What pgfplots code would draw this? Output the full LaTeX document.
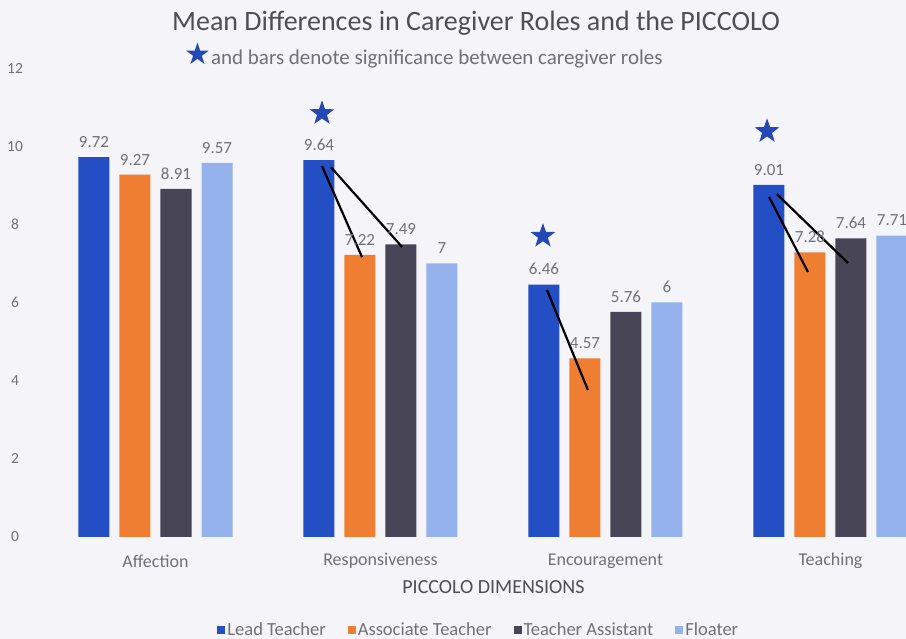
\documentclass[border=0pt]{standalone}
\usepackage{fontspec}
\setmainfont{Carlito}
\newfontfamily\symfont{DejaVu Sans}
\usepackage{pgfplots}
\pgfplotsset{compat=1.18}
\definecolor{leadblue}{RGB}{36,78,196}
\definecolor{assocorange}{RGB}{240,126,50}
\definecolor{tagray}{RGB}{72,70,86}
\definecolor{floatblue}{RGB}{150,178,236}
\definecolor{bgcol}{RGB}{244,244,249}
\definecolor{starblue}{RGB}{36,72,180}
\definecolor{lblgray}{RGB}{112,112,118}
\definecolor{titlegray}{RGB}{78,78,84}

% filled five-pointed star
\pgfdeclareplotmark{fstar}{%
  \pgfpathmoveto{\pgfpointpolar{90}{\pgfplotmarksize}}%
  \pgfpathlineto{\pgfpointpolar{126}{0.4\pgfplotmarksize}}%
  \pgfpathlineto{\pgfpointpolar{162}{\pgfplotmarksize}}%
  \pgfpathlineto{\pgfpointpolar{198}{0.4\pgfplotmarksize}}%
  \pgfpathlineto{\pgfpointpolar{234}{\pgfplotmarksize}}%
  \pgfpathlineto{\pgfpointpolar{270}{0.4\pgfplotmarksize}}%
  \pgfpathlineto{\pgfpointpolar{306}{\pgfplotmarksize}}%
  \pgfpathlineto{\pgfpointpolar{342}{0.4\pgfplotmarksize}}%
  \pgfpathlineto{\pgfpointpolar{18}{\pgfplotmarksize}}%
  \pgfpathlineto{\pgfpointpolar{54}{0.4\pgfplotmarksize}}%
  \pgfpathclose\pgfusepathqfill}

\begin{document}
\begin{tikzpicture}
\path[use as bounding box,fill=bgcol] (0,0) rectangle (906pt,639pt);
\clip (0,0) rectangle (906pt,639pt);

\node[text=titlegray,font=\fontsize{28}{32}\selectfont] at (476pt,616pt)
  {Mean Differences in Caregiver Roles and the PICCOLO};
\node[anchor=west,text=lblgray,font=\fontsize{21}{24}\selectfont,inner sep=0pt] at (184pt,584pt)
  {{\symfont\color{starblue}\fontsize{30}{30}\selectfont ★}and bars denote significance between caregiver roles};

\begin{axis}[
  at={(43pt,102pt)},anchor=south west,
  scale only axis,width=863pt,height=469pt,
  xmin=-0.5,xmax=3.3356,ymin=0,ymax=12,
  clip=false,
  axis line style={draw=none},
  major tick length=0pt,
  xtick={0,1,2,3},
  xticklabels={Affection,Responsiveness,Encouragement,Teaching},
  ytick={0,2,...,12},
  /pgf/number format/assume math mode=true,
  tick label style={text=lblgray},
  x tick label style={font=\fontsize{18}{21}\selectfont,anchor=center,yshift=-24pt},
  y tick label style={font=\fontsize{15.5}{18}\selectfont,anchor=center,xshift=-28pt},
  xlabel={PICCOLO DIMENSIONS},
  xlabel style={font=\fontsize{20}{23}\selectfont,text=titlegray,
    at={(axis description cs:0.522,-0.1066)},anchor=center},
  legend columns=4,
  legend style={draw=none,fill=none,font=\fontsize{18.5}{21}\selectfont,text=lblgray,
    at={(axis description cs:0.505,-0.198)},anchor=center,
    /tikz/every even column/.append style={column sep=20pt}},
  legend image code/.code={\path[#1,draw=none] (-2pt,-4pt) rectangle (6pt,4pt);},
  every node near coord/.append style={font=\fontsize{17}{20}\selectfont,text=lblgray,yshift=6pt},
]
\addplot[ybar,bar width=31pt,bar shift=-61.5pt,fill=leadblue,draw=none,
  nodes near coords,every node near coord/.append style={xshift=-61.5pt}]
  coordinates {(0,9.72) (1,9.64) (2,6.46) (3,9.01)};
\addlegendentry{Lead Teacher}
\addplot[ybar,bar width=31pt,bar shift=-20.5pt,fill=assocorange,draw=none,
  nodes near coords,every node near coord/.append style={xshift=-20.5pt}]
  coordinates {(0,9.27) (1,7.22) (2,4.57) (3,7.28)};
\addlegendentry{Associate Teacher}
\addplot[ybar,bar width=31pt,bar shift=20.5pt,fill=tagray,draw=none,
  nodes near coords,every node near coord/.append style={xshift=20.5pt}]
  coordinates {(0,8.91) (1,7.49) (2,5.76) (3,7.64)};
\addlegendentry{Teacher Assistant}
\addplot[ybar,bar width=31pt,bar shift=61.5pt,fill=floatblue,draw=none,
  nodes near coords,every node near coord/.append style={xshift=61.5pt}]
  coordinates {(0,9.57) (1,7) (2,6) (3,7.71)};
\addlegendentry{Floater}

% significance bars
\addplot[black,line width=2.2pt,forget plot] coordinates {(0.740,9.49) (0.918,7.16)};
\addplot[black,line width=2.2pt,forget plot] coordinates {(0.780,9.46) (1.096,7.42)};
\addplot[black,line width=2.2pt,forget plot] coordinates {(1.740,6.32) (1.922,3.76)};
\addplot[black,line width=2.2pt,forget plot] coordinates {(2.727,8.70) (2.900,6.78)};
\addplot[black,line width=2.2pt,forget plot] coordinates {(2.762,8.77) (3.078,7.01)};

% significance stars
\addplot[only marks,mark=fstar,mark size=13pt,starblue,forget plot]
  coordinates {(0.740,10.84) (1.722,7.70) (2.718,10.38)};
\end{axis}
\end{tikzpicture}
\end{document}
